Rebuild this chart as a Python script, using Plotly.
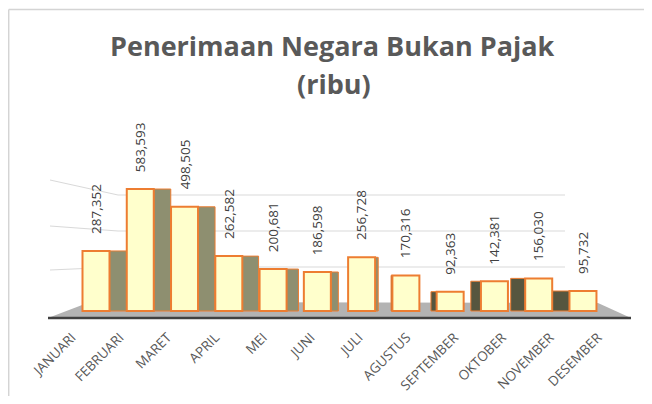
import plotly.graph_objects as go

MONTHS = ["JANUARI", "FEBRUARI", "MARET", "APRIL", "MEI", "JUNI", "JULI",
          "AGUSTUS", "SEPTEMBER", "OKTOBER", "NOVEMBER", "DESEMBER"]
VALUES = [287352, 583593, 498505, 262582, 200681, 186598, 256728,
          170316, 92363, 142381, 156030, 95732]
TITLE_1 = "Penerimaan Negara Bukan Pajak"
TITLE_2 = "(ribu)"

# ---- layout geometry (page pixels; the page body adds an 8px margin) ----
OFF = 8
W_FIG, H_FIG = 652 - 2 * OFF, 404 - 2 * OFF
L, T = 40, 40                # page px of plot-area left/top
PW = 600
BOTTOM = 318                 # page px of plot-area bottom
PH = BOTTOM - T
ZERO_PX = 311                # page row of value 0
K = 2.09e-4                  # px per unit
PX_PER_CAT = 44.27
FIRST_CENTER = 96

y_lo = -(BOTTOM - ZERO_PX) / K
y_hi = (ZERO_PX - T) / K
x_lo = -(FIRST_CENTER - L) / PX_PER_CAT
x_hi = x_lo + PW / PX_PER_CAT

LBL_SP = 47.8
LBL_FIRST = 72
x2_lo = -(LBL_FIRST - L) / LBL_SP
x2_hi = x2_lo + PW / LBL_SP


def xp(p):
    return (p - L) / PW


def yp(p):
    return (BOTTOM - p) / PH


FRONT_W = 0.61
side_w, side_off, side_col = [], [], []
for i in range(len(MONTHS)):
    d = max(-17.0, min(17.0, 4.4 * (6.7 - i)))
    wd = abs(d) / PX_PER_CAT
    side_w.append(wd)
    if d >= 0:
        side_off.append(FRONT_W / 2)
    else:
        side_off.append(-FRONT_W / 2 - wd)
    side_col.append("#8E8F70" if i < 7 else "#56563F")

fig = go.Figure()
fig.add_trace(go.Bar(
    x=MONTHS, y=VALUES, width=side_w, offset=side_off,
    marker=dict(color=side_col, line=dict(color="#ED7D31", width=1)),
    hoverinfo="skip", showlegend=False,
))
fig.add_trace(go.Bar(
    x=MONTHS, y=VALUES, width=FRONT_W, offset=-FRONT_W / 2,
    marker=dict(color="#FFFFCC", line=dict(color="#ED7D31", width=2)),
    showlegend=False,
))
fig.add_trace(go.Scatter(
    x=list(range(len(MONTHS))), y=VALUES, xaxis="x2", mode="markers",
    marker=dict(opacity=0), hoverinfo="skip", showlegend=False,
))

shapes = []
# chart border (top and left edges)
shapes.append(dict(type="line", xref="paper", yref="paper",
                   x0=xp(OFF + 0.7), x1=xp(700), y0=yp(OFF + 1.5), y1=yp(OFF + 1.5),
                   line=dict(color="#D4D4D4", width=1.5), layer="below"))
shapes.append(dict(type="line", xref="paper", yref="paper",
                   x0=xp(OFF + 0.7), x1=xp(OFF + 0.7), y0=yp(OFF + 1.5), y1=yp(420),
                   line=dict(color="#D4D4D4", width=1.5), layer="below"))
# back-wall gridlines (perspective)
for yl, yc in [(180, 195), (226, 231), (270, 267)]:
    path = "M {} {} L {} {} L {} {}".format(
        xp(50), yp(yl), xp(118), yp(yc), xp(565), yp(yc))
    shapes.append(dict(type="path", xref="paper", yref="paper", path=path,
                       line=dict(color="#D9D9D9", width=1), layer="below"))
# floor
floor = "M {} {} L {} {} L {} {} L {} {} Z".format(
    xp(48), yp(318), xp(631), yp(318), xp(598), yp(303), xp(90), yp(302))
shapes.append(dict(type="path", xref="paper", yref="paper", path=floor,
                   fillcolor="#B3B3B3", line=dict(width=0), layer="below"))
shapes.append(dict(type="line", xref="paper", yref="paper",
                   x0=xp(48), x1=xp(631), y0=yp(318), y1=yp(318),
                   line=dict(color="#404040", width=2.5), layer="below"))

annotations = []
for m, v in zip(MONTHS, VALUES):
    annotations.append(dict(
        x=m, y=v, xref="x", yref="y", text="{:,}".format(v),
        textangle=-90, xanchor="center", yanchor="bottom", yshift=15,
        showarrow=False, font=dict(family="Open Sans", size=13.5, color="#404040"),
    ))
annotations.append(dict(x=xp(332), y=yp(46), xref="paper", yref="paper",
                        text="<b>" + TITLE_1 + "</b>", showarrow=False,
                        xanchor="center", yanchor="middle",
                        font=dict(family="Open Sans", size=27, color="#595959")))
annotations.append(dict(x=xp(334), y=yp(83), xref="paper", yref="paper",
                        text="<b>" + TITLE_2 + "</b>", showarrow=False,
                        xanchor="center", yanchor="middle",
                        font=dict(family="Open Sans", size=27, color="#595959")))

fig.update_layout(
    width=W_FIG, height=H_FIG,
    margin=dict(l=L - OFF, r=W_FIG - (L - OFF) - PW, t=T - OFF,
                b=H_FIG - (BOTTOM - OFF), pad=0, autoexpand=False),
    paper_bgcolor="white", plot_bgcolor="rgba(0,0,0,0)",
    barmode="overlay",
    shapes=shapes, annotations=annotations,
    xaxis=dict(type="category", range=[x_lo, x_hi], showticklabels=False,
               showgrid=False, zeroline=False, showline=False, ticks="",
               automargin=False),
    xaxis2=dict(overlaying="x", anchor="y", side="bottom", range=[x2_lo, x2_hi],
                tickmode="array", tickvals=list(range(len(MONTHS))),
                ticktext=MONTHS, tickangle=-45, ticks="", ticklabelstandoff=8,
                tickfont=dict(family="Open Sans", size=13.5, color="#595959"),
                showgrid=False, zeroline=False, showline=False, automargin=False),
    yaxis=dict(range=[y_lo, y_hi], visible=False, showgrid=False, zeroline=False,
               automargin=False),
    font=dict(family="Open Sans"),
)

fig.write_html("out.html")
